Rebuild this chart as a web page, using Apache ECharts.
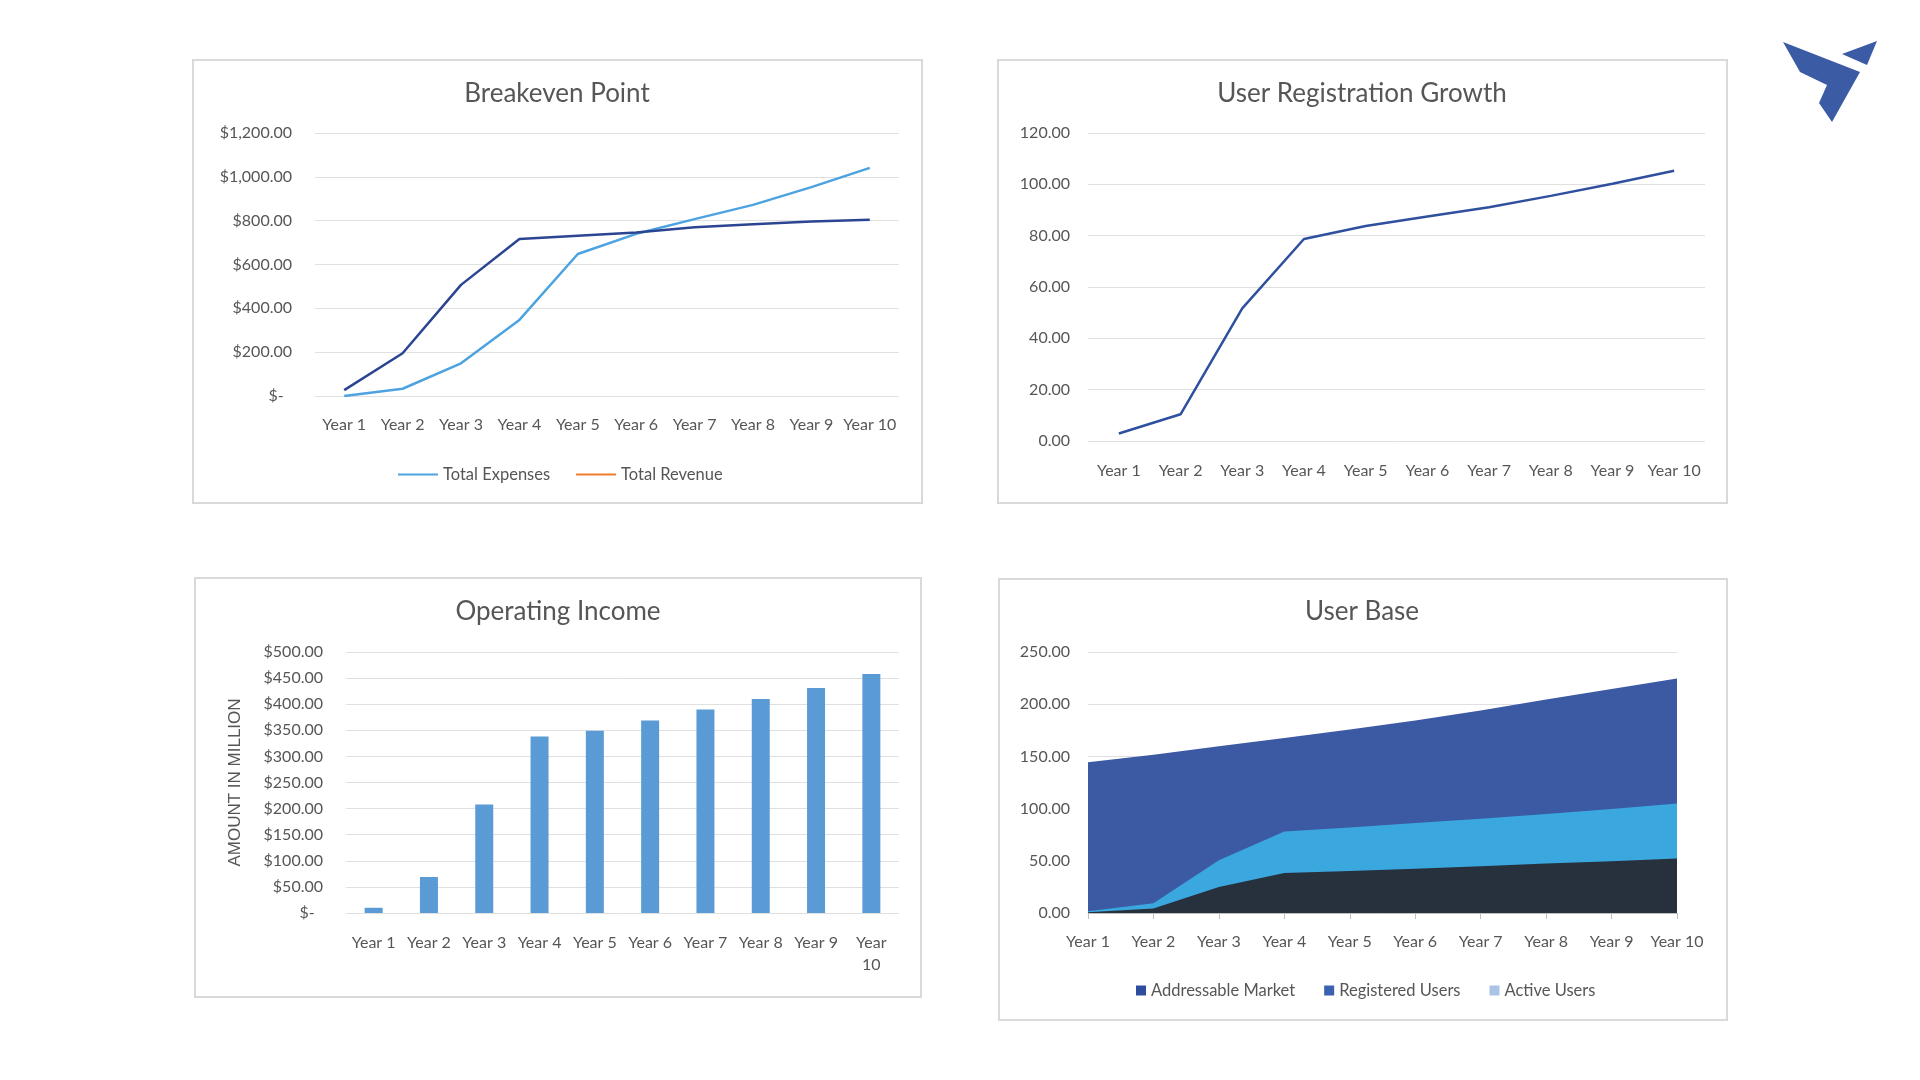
<!DOCTYPE html>
<html>
<head>
<meta charset="utf-8">
<script src="https://cdn.jsdelivr.net/npm/echarts@6/dist/echarts.min.js"></script>
<style>
html,body{margin:0;padding:0;background:#fff;}
#chart{width:1920px;height:1080px;}
</style>
</head>
<body>
<div id="chart"></div>
<script>
const years = ['Year 1','Year 2','Year 3','Year 4','Year 5','Year 6','Year 7','Year 8','Year 9','Year 10'];
const totalExpenses = [0, 33, 149, 347, 648, 740, 807, 872, 953, 1041];
const totalRevenue = [27, 195, 507, 716, 731, 746, 770, 784, 796, 804];
const userRegistrations = [2.9, 10.4, 51.7, 78.7, 83.8, 87.5, 91.1, 95.5, 100.2, 105.3];
const operatingIncome = [10, 69, 208, 338, 349, 369, 390, 410, 431, 458];
const addressableMarket = [144.4, 151.7, 159.7, 167.7, 175.7, 184.4, 194.0, 204.5, 214.5, 224.5];
const registeredUsers = [1.6, 9.3, 50.6, 78.1, 82.0, 86.1, 90.3, 94.8, 99.6, 104.8];
const activeUsers = [0.8, 4.2, 25.0, 38.4, 40.3, 42.3, 44.8, 47.4, 49.6, 52.1];

const titles = ['Breakeven Point', 'User Registration Growth', 'Operating Income', 'User Base'];
const legendBreakeven = ['Total Expenses', 'Total Revenue'];
const legendUserBase = ['Addressable Market', 'Registered Users', 'Active Users'];
const yAxisName = 'AMOUNT IN MILLION';

const FONT = 'Lato, "Open Sans", sans-serif';
const TXT = '#565656';
const GRIDLINE = '#e0e0e0';

function money(v) {
  if (v === 0) return '$-  ';
  return '$' + v.toLocaleString('en-US', {minimumFractionDigits: 2, maximumFractionDigits: 2});
}
function fixed2(v) { return v.toFixed(2); }

const chart = echarts.init(document.getElementById('chart'));

function catAxis(gridIndex, opts) {
  return Object.assign({
    type: 'category', gridIndex: gridIndex, data: years, boundaryGap: true,
    axisLine: {show: false}, axisTick: {show: false},
    axisLabel: {color: TXT, fontFamily: FONT, fontSize: 16, margin: 21, interval: 0}
  }, opts || {});
}
function valAxis(gridIndex, max, interval, fmt, margin, opts) {
  return Object.assign({
    type: 'value', gridIndex: gridIndex, min: 0, max: max, interval: interval,
    axisLine: {show: false}, axisTick: {show: false},
    splitLine: {lineStyle: {color: GRIDLINE, width: 1}},
    axisLabel: {color: TXT, fontFamily: FONT, fontSize: 16, margin: margin, formatter: fmt}
  }, opts || {});
}

const boxes = [
  [193, 60, 729, 443],
  [998, 60, 729, 443],
  [195, 578, 726, 419],
  [999, 579, 728, 441]
];

const option = {
  backgroundColor: '#ffffff',
  animation: false,
  title: [
    {text: titles[0], left: 557, top: 94},
    {text: titles[1], left: 1362, top: 94},
    {text: titles[2], left: 558, top: 612},
    {text: titles[3], left: 1362, top: 612}
  ].map(t => Object.assign(t, {
    textAlign: 'center', textVerticalAlign: 'middle', padding: 0,
    textStyle: {color: TXT, fontFamily: FONT, fontSize: 26, fontWeight: 'normal'}
  })),
  legend: [
    {
      data: [
        {name: legendBreakeven[0], itemStyle: {color: '#4da3df'}},
        {name: legendBreakeven[1], itemStyle: {color: '#ed7d31'}}
      ],
      left: 398, top: 466, itemWidth: 40, itemHeight: 2, itemGap: 26, padding: 0,
      icon: 'rect',
      textStyle: {color: TXT, fontFamily: FONT, fontSize: 16.5}
    },
    {
      data: [
        {name: legendUserBase[0], itemStyle: {color: '#2f4d9e'}},
        {name: legendUserBase[1], itemStyle: {color: '#3a62b0'}},
        {name: legendUserBase[2], itemStyle: {color: '#a9c4e6'}}
      ],
      left: 1136, top: 982, itemWidth: 10, itemHeight: 10, itemGap: 29, padding: 0,
      icon: 'rect',
      textStyle: {color: TXT, fontFamily: FONT, fontSize: 16.5}
    }
  ],
  grid: [
    {left: 315, right: 1021, top: 133, bottom: 684},
    {left: 1088, right: 215, top: 133, bottom: 639},
    {left: 346, right: 1021, top: 652, bottom: 167},
    {left: 1088, right: 243, top: 652, bottom: 167}
  ],
  xAxis: [
    catAxis(0),
    catAxis(1, {axisLabel: {color: TXT, fontFamily: FONT, fontSize: 16, margin: 22, interval: 0}}),
    catAxis(2, {axisLabel: {color: TXT, fontFamily: FONT, fontSize: 16, margin: 19, interval: 0, lineHeight: 22,
      formatter: v => v.length > 6 ? v.replace(' ', '\n') : v}}),
    catAxis(3, {boundaryGap: false,
      axisLine: {show: true, lineStyle: {color: '#bfbfbf', width: 1}},
      axisTick: {show: true, length: 6, lineStyle: {color: '#bfbfbf'}},
      axisLabel: {color: TXT, fontFamily: FONT, fontSize: 16, margin: 21, interval: 0}})
  ],
  yAxis: [
    valAxis(0, 1200, 200, money, 23),
    valAxis(1, 120, 20, fixed2, 18),
    valAxis(2, 500, 50, money, 23, {
      name: yAxisName, nameLocation: 'middle', nameGap: 102, nameRotate: 90,
      nameTextStyle: {color: TXT, fontFamily: '"Liberation Sans", Arial, sans-serif', fontSize: 17}
    }),
    valAxis(3, 250, 50, fixed2, 18)
  ],
  series: [
    {name: legendBreakeven[0], type: 'line', xAxisIndex: 0, yAxisIndex: 0, data: totalExpenses,
      symbol: 'none', lineStyle: {color: '#4da3df', width: 2.5}, itemStyle: {color: '#4da3df'}},
    {name: legendBreakeven[1], type: 'line', xAxisIndex: 0, yAxisIndex: 0, data: totalRevenue,
      symbol: 'none', lineStyle: {color: '#2c4592', width: 2.5}, itemStyle: {color: '#2c4592'}},
    {name: 'User Registrations', type: 'line', xAxisIndex: 1, yAxisIndex: 1, data: userRegistrations,
      symbol: 'none', lineStyle: {color: '#2f4f9f', width: 2.5}, itemStyle: {color: '#2f4f9f'}},
    {name: 'Operating Income', type: 'bar', xAxisIndex: 2, yAxisIndex: 2, data: operatingIncome,
      barWidth: 18, itemStyle: {color: '#5b9bd5'}},
    {name: legendUserBase[0], type: 'line', xAxisIndex: 3, yAxisIndex: 3, data: addressableMarket,
      symbol: 'none', lineStyle: {width: 0}, itemStyle: {color: '#3c5aa3'}, areaStyle: {color: '#3c5aa3', opacity: 1}},
    {name: legendUserBase[1], type: 'line', xAxisIndex: 3, yAxisIndex: 3, data: registeredUsers,
      symbol: 'none', lineStyle: {width: 0}, itemStyle: {color: '#3aa7de'}, areaStyle: {color: '#3aa7de', opacity: 1}},
    {name: legendUserBase[2], type: 'line', xAxisIndex: 3, yAxisIndex: 3, data: activeUsers,
      symbol: 'none', lineStyle: {width: 0}, itemStyle: {color: '#27303d'}, areaStyle: {color: '#27303d', opacity: 1}}
  ],
  graphic: boxes.map(b => ({
    type: 'rect', shape: {x: b[0], y: b[1], width: b[2], height: b[3]},
    style: {fill: 'none', stroke: '#d9d9d9', lineWidth: 2}, z: -1, silent: true
  })).concat([
    {type: 'polygon', shape: {points: [[1783,42],[1860,72],[1832,122],[1819,103],[1827,85],[1800,72]]},
      style: {fill: '#3b5ba5'}, silent: true},
    {type: 'polygon', shape: {points: [[1842,54],[1877,41],[1867,65]]},
      style: {fill: '#3b5ba5'}, silent: true}
  ])
};
chart.setOption(option);
</script>
</body>
</html>
